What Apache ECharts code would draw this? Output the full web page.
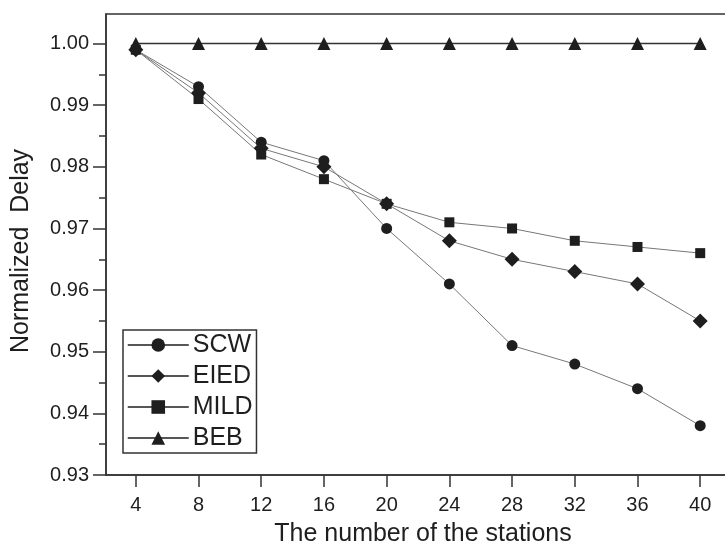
<!DOCTYPE html>
<html lang="en">
<head>
	<meta charset="UTF-8">
	<title>Normalized Delay</title>
	<style>
		html,body{margin:0;padding:0;background:#fff;overflow:hidden;}
		#main{width:725px;height:543px;}
	</style>
</head>
<body>
	<div id="main"></div>
	<script src="https://cdn.jsdelivr.net/npm/echarts@6/dist/echarts.min.js"></script>
	<script>
		// number of stations
		var stations = [4, 8, 12, 16, 20, 24, 28, 32, 36, 40];
		// normalized delay per scheme
		var scw  = [0.999, 0.993, 0.984, 0.981, 0.970, 0.961, 0.951, 0.948, 0.944, 0.938];
		var eied = [0.999, 0.992, 0.983, 0.980, 0.974, 0.968, 0.965, 0.963, 0.961, 0.955];
		var mild = [0.999, 0.991, 0.982, 0.978, 0.974, 0.971, 0.970, 0.968, 0.967, 0.966];
		var beb  = [1.000, 1.000, 1.000, 1.000, 1.000, 1.000, 1.000, 1.000, 1.000, 1.000];
		// tick labels
		var yTicks = [0.93, 0.94, 0.95, 0.96, 0.97, 0.98, 0.99, 1.00];
		var yMinorTicks = [0.935, 0.945, 0.955, 0.965, 0.975, 0.985, 0.995];

		var font = 'Liberation Sans';
		var ink = '#1e1e1e';

		function pairs(vals){
			var out = [];
			for(var i=0;i<stations.length;i++){
				out.push([stations[i], vals[i]]);
			}
			return out;
		}

		function line(name, vals, symbol, size, lineColor, lineWidth){
			return {
				name: name,
				type: 'line',
				data: pairs(vals),
				symbol: symbol,
				symbolSize: size,
				showAllSymbol: true,
				itemStyle: {color: ink},
				lineStyle: {color: lineColor, width: lineWidth},
				emphasis: {disabled: true},
				animation: false
			};
		}

		var myChart = echarts.init(document.getElementById('main'));
		var option = {
			animation: false,
			grid: {
				left: 106, top: 14, right: -5, bottom: 68,
				outerBoundsMode: 'none',
				containLabel: false,
				show: true, borderColor: '#333', borderWidth: 1.5
			},
			legend: {
				orient: 'vertical',
				left: 123, top: 330,
				padding: [2, 4, 2, 4],
				itemWidth: 61, itemHeight: 17, itemGap: 5,
				borderColor: '#333', borderWidth: 1.5,
				textStyle: {fontFamily: font, fontSize: 25, color: ink, lineHeight: 26, padding: [0,0,0,-1]},
				lineStyle: {color: ink, width: 1.5},
				data: ['SCW', 'EIED', 'MILD', 'BEB']
			},
			xAxis: {
				type: 'value',
				min: 2.1, max: 41.9,
				name: 'The number of the stations',
				nameLocation: 'middle',
				nameGap: 47,
				nameTextStyle: {fontFamily: font, fontSize: 25, color: ink, padding: [0,0,0,10]},
				splitLine: {show: false},
				axisLine: {lineStyle: {color: '#333', width: 1.5}},
				axisTick: {show: true, inside: false, length: 12, lineStyle: {color: '#333', width: 1.5}, customValues: stations},
				axisLabel: {fontFamily: font, fontSize: 20, color: ink, margin: 20, customValues: stations}
			},
			yAxis: [{
				type: 'value',
				min: 0.93, max: 1.0048,
				name: 'Normalized  Delay',
				nameLocation: 'middle',
				nameGap: 72,
				nameTextStyle: {fontFamily: font, fontSize: 25, color: ink, padding: [0,13,0,0]},
				splitLine: {show: false},
				axisLine: {show: true, lineStyle: {color: '#333', width: 1.5}},
				axisTick: {show: true, inside: false, length: 13, lineStyle: {color: '#333', width: 1.5}, customValues: yTicks},
				axisLabel: {
					fontFamily: font, fontSize: 20, color: ink, margin: 17, customValues: yTicks,
					formatter: function(v){ return v.toFixed(2); }
				}
			}, {
				type: 'value',
				position: 'left',
				min: 0.93, max: 1.0048,
				splitLine: {show: false},
				axisLine: {show: false},
				axisTick: {show: true, inside: false, length: 7, lineStyle: {color: '#333', width: 1.5}, customValues: yMinorTicks},
				axisLabel: {show: false}
			}],
			series: [
				line('SCW', scw, 'circle', 11, '#777', 1),
				line('EIED', eied, 'diamond', 15, '#777', 1),
				line('MILD', mild, 'rect', 10, '#777', 1),
				line('BEB', beb, 'triangle', 13, '#333', 1.5)
			]
		};
		myChart.setOption(option);
	</script>
</body>
</html>
